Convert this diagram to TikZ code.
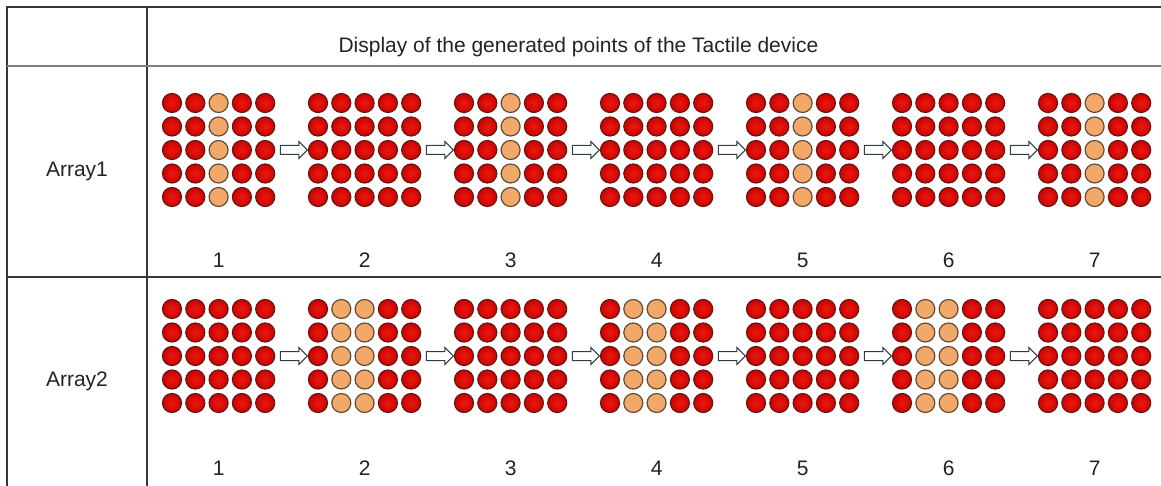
\documentclass[tikz,border=0pt]{standalone}
\usepackage{fontspec}
\setmainfont{Liberation Sans}
\usetikzlibrary{positioning,fit,calc,shapes.arrows}
\definecolor{pinred}{RGB}{238,24,14}
\definecolor{pinredrim}{RGB}{200,4,4}
\definecolor{pinrededge}{RGB}{105,22,18}
\definecolor{pinorange}{RGB}{242,168,104}
\definecolor{pinorangeedge}{RGB}{95,75,55}
\definecolor{rulecol}{RGB}{55,55,55}
\definecolor{arrowedge}{RGB}{45,60,70}
\definecolor{labeltext}{RGB}{35,35,35}

\begin{document}
\begin{tikzpicture}[x=1pt, y=-1pt, every node/.style={font=\fontsize{21}{24}\selectfont, text=labeltext},
 pt0/.style={circle, draw=pinrededge, inner color=pinred, outer color=pinredrim, line width=1.2pt, minimum size=19pt, inner sep=0pt},
 pt1/.style={circle, draw=pinorangeedge, fill=pinorange, line width=1.2pt, minimum size=19pt, inner sep=0pt},
 stepflow/.style={single arrow, draw=arrowedge, fill=white, line width=1pt, single arrow head extend=4pt, inner ysep=4pt, inner xsep=0pt, minimum height=27pt},
 gridline/.style={draw=rulecol, line width=1.5pt}]
\useasboundingbox (0,0) rectangle (1161,486);
\clip (0,0) rectangle (1161,486);
% table frame
\draw[gridline] (1200,7) -- (7,7) -- (7,520);
\draw[gridline] (147,7) -- (147,520);
\draw[gridline, draw=gray] (7,66) -- (1200,66);
\draw[gridline] (7,277) -- (1200,277);
\node[anchor=base west] (title) at (335,53) {Display of the generated points of the Tactile device};
\node (arr1) at (77,171) {Array1};
\node (arr2) at (77,381) {Array2};
% pin grids, numbers and arrows
\foreach \row/\ytop/\lab in {1/103/260, 2/309/468} {
  \foreach \i in {1,...,7} {
    \foreach \c in {0,...,4} {
      \pgfmathtruncatemacro\lit{(\row==1 && mod(\i,2)==1 && \c==2) || (\row==2 && mod(\i,2)==0 && (\c==1 || \c==2))}
      \foreach \k in {0,...,4}
        \node[pt\lit] (p\row-\i-\c-\k) at ({172+146*(\i-1)+23.3*\c},{\ytop+23.5*\k}) {};
    }
    \node[fit=(p\row-\i-0-0)(p\row-\i-4-4), inner sep=0pt] (g\row-\i) {};
    \node (n\row-\i) at ({172+146*(\i-1)+46.6},\lab) {\i};
  }
  \foreach \i [count=\j from 2] in {1,...,6}
    \node[stepflow] (a\row-\i) at ($(g\row-\i.east)!0.5!(g\row-\j.west)$) {};
}
\end{tikzpicture}
\end{document}
